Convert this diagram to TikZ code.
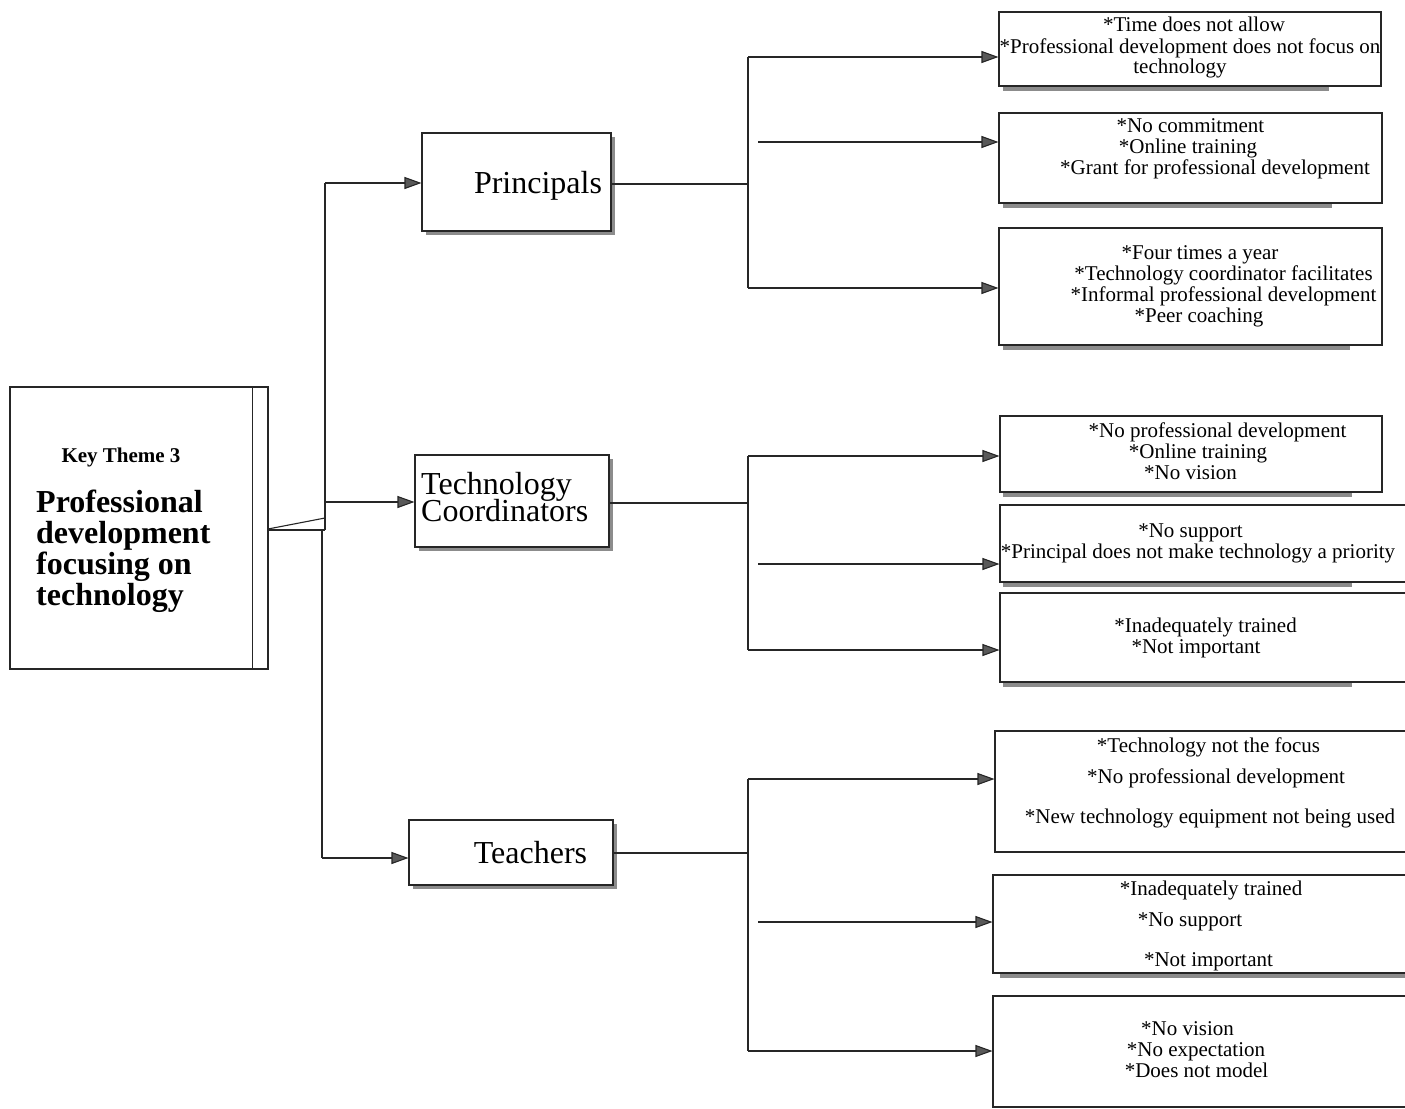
\documentclass[tikz,border=0pt]{standalone}
\usepackage{fontspec}
\setmainfont{Liberation Serif}
\usetikzlibrary{arrows.meta}
\begin{document}
\begin{tikzpicture}[x=1pt,y=-1pt,
  ln/.style={line width=1.1pt, draw=black!85},
  arr/.style={ln, -{Triangle[length=17pt,width=12pt,fill=black!65]}},
  box/.style={rectangle, draw=black!85, line width=1.1pt, fill=white, inner sep=0pt},
  shd/.style={fill=black!45, draw=none},
  txt/.style={font=\fontsize{21}{21}\selectfont, anchor=base, inner sep=0pt},
  bigtxt/.style={font=\fontsize{32}{32}\selectfont, anchor=base, inner sep=0pt},
  keytxt/.style={font=\fontsize{32}{32}\selectfont\bfseries, anchor=base west, inner sep=0pt}
]
\clip (0,0) rectangle (1405,1108);
\fill[white] (0,0) rectangle (1405,1108);

% shadows
\fill[shd] (426,137) rectangle (615,235);
\fill[shd] (419,459) rectangle (613,551);
\fill[shd] (413,824) rectangle (617,889);
\fill[shd] (1003,87) rectangle (1329,91);
\fill[shd] (1003,204) rectangle (1332,208);
\fill[shd] (1003,346) rectangle (1350,350);
\fill[shd] (1003,493) rectangle (1352,497);
\fill[shd] (1003,583) rectangle (1352,587);
\fill[shd] (1003,683) rectangle (1352,687);
\fill[shd] (1000,974) rectangle (1405,978);

% key theme box
\node[box, minimum width=258pt, minimum height=282pt] (key) at (139,528) {};
\draw[ln] ([xshift=-16pt]key.north east) -- ([xshift=-16pt]key.south east);
\node[txt, font=\fontsize{21}{21}\selectfont\bfseries] (k0) at (121,462) {Key Theme 3};
\node[keytxt] (k1t) at (36,512) {Professional};
\node[keytxt] (k2t) at (36,543) {development};
\node[keytxt] (k3t) at (36,574) {focusing on};
\node[keytxt] (k4t) at (36,605) {technology};

% category boxes
\node[box, minimum width=189pt, minimum height=98pt] (pr) at (516.5,182) {};
\node[box, minimum width=194pt, minimum height=92pt] (tc) at (512,501) {};
\node[box, minimum width=204pt, minimum height=65pt] (te) at (511,852.5) {};
\node[bigtxt] (prt) at (538,193) {Principals};
\node[bigtxt, anchor=base west] (tct1) at (421,494) {Technology};
\node[bigtxt, anchor=base west] (tct2) at (421,521) {Coordinators};
\node[bigtxt] (tet) at (530.5,863) {Teachers};

% right boxes
\node[box, minimum width=382pt, minimum height=74pt] (A) at (1190,49) {};
\node[box, minimum width=383pt, minimum height=90pt] (B) at (1190.5,158) {};
\node[box, minimum width=383pt, minimum height=117pt] (C) at (1190.5,286.5) {};
\node[box, minimum width=382pt, minimum height=76pt] (D) at (1191,454) {};
\node[box, minimum width=420pt, minimum height=77pt] (E) at (1210,543.5) {};
\node[box, minimum width=420pt, minimum height=89pt] (F) at (1210,637.5) {};
\node[box, minimum width=425pt, minimum height=121pt] (G) at (1207.5,791.5) {};
\node[box, minimum width=427pt, minimum height=98pt] (H) at (1206.5,924) {};
\node[box, minimum width=427pt, minimum height=111pt] (I) at (1206.5,1051.5) {};

% right box texts
\node[txt] (a1) at (1194,32) {*Time does not allow};
\node[txt] (a2) at (1190,53) {*Professional development does not focus on};
\node[txt] (a3) at (1180,74) {technology};
\node[txt] (b1) at (1190.5,132) {*No commitment};
\node[txt] (b2) at (1188,153) {*Online training};
\node[txt] (b3) at (1215,174) {*Grant for professional development};
\node[txt] (c1) at (1200,259) {*Four times a year};
\node[txt] (c2) at (1223.5,280) {*Technology coordinator facilitates};
\node[txt] (c3) at (1223.5,301) {*Informal professional development};
\node[txt] (c4) at (1199,322) {*Peer coaching};
\node[txt] (d1) at (1217.5,437) {*No professional development};
\node[txt] (d2) at (1198,458) {*Online training};
\node[txt] (d3) at (1190.5,479) {*No vision};
\node[txt] (e1) at (1190.5,537) {*No support};
\node[txt] (e2) at (1198,558) {*Principal does not make technology a priority};
\node[txt] (f1) at (1205.5,632) {*Inadequately trained};
\node[txt] (f2) at (1196,653) {*Not important};
\node[txt] (g1) at (1208.5,752) {*Technology not the focus};
\node[txt] (g2) at (1216,783) {*No professional development};
\node[txt] (g3) at (1210,823) {*New technology equipment not being used};
\node[txt] (h1) at (1211,895) {*Inadequately trained};
\node[txt] (h2) at (1190,926) {*No support};
\node[txt] (h3) at (1208.5,966) {*Not important};
\node[txt] (i1) at (1187.5,1035) {*No vision};
\node[txt] (i2) at (1196,1056) {*No expectation};
\node[txt] (i3) at (1196.5,1077) {*Does not model};

% left trunk
\coordinate (j1) at (268,530);
\coordinate (j2) at (325,530);
\coordinate (j3) at (325,518);
\coordinate (j4) at (268,529);
\coordinate (tp) at (325,183);
\coordinate (tm) at (325,502);
\coordinate (bt0) at (322,530);
\coordinate (bt) at (322,858);
\draw[ln] (j1) -- (j2);
\draw[ln] (j4) -- (j3);
\draw[ln] (j2) -- (tp);
\draw[ln] (bt0) -- (bt);
\draw[arr] (tp) -- (tp -| pr.west);
\draw[arr] (tm) -- (tm -| tc.west);
\draw[arr] (bt) -- (bt -| te.west);

% principals group
\coordinate (pj) at (748,184);
\coordinate (p1) at (748,57);
\coordinate (p2) at (758,142);
\coordinate (p3) at (748,288);
\draw[ln] (pj -| pr.east) -- (pj);
\draw[ln] (p1) -- (p3);
\draw[arr] (p1) -- (p1 -| A.west);
\draw[arr] (p2) -- (p2 -| B.west);
\draw[arr] (p3) -- (p3 -| C.west);

% technology coordinators group
\coordinate (qj) at (748,503);
\coordinate (q1) at (748,456);
\coordinate (q2) at (758,564);
\coordinate (q3) at (748,650);
\draw[ln] (qj -| tc.east) -- (qj);
\draw[ln] (q1) -- (q3);
\draw[arr] (q1) -- (q1 -| D.west);
\draw[arr] (q2) -- (q2 -| E.west);
\draw[arr] (q3) -- (q3 -| F.west);

% teachers group
\coordinate (rj) at (748,853);
\coordinate (r1) at (748,779);
\coordinate (r2) at (758,922);
\coordinate (r3) at (748,1051);
\draw[ln] (rj -| te.east) -- (rj);
\draw[ln] (r1) -- (r3);
\draw[arr] (r1) -- (r1 -| G.west);
\draw[arr] (r2) -- (r2 -| H.west);
\draw[arr] (r3) -- (r3 -| I.west);
\end{tikzpicture}
\end{document}
